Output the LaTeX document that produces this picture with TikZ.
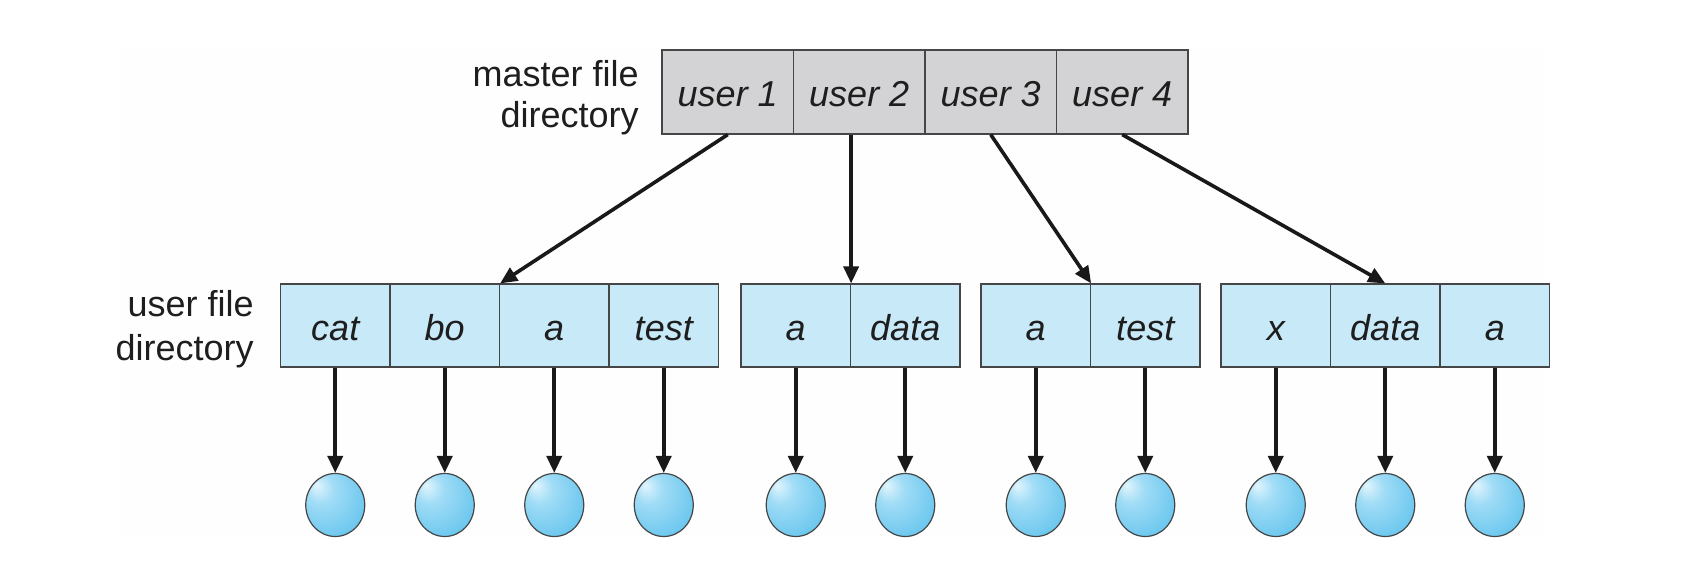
\documentclass[tikz,border=0pt]{standalone}
\usepackage{fontspec}
\setmainfont{Liberation Sans}
\usetikzlibrary{arrows.meta,shapes.geometric}
\definecolor{mgray}{RGB}{211,211,213}
\definecolor{ublue}{RGB}{200,233,248}
\definecolor{edgec}{RGB}{70,70,70}
\definecolor{txt}{RGB}{30,30,30}
\definecolor{bubA}{RGB}{225,245,253}
\definecolor{bubB}{RGB}{160,220,246}
\definecolor{bubC}{RGB}{105,198,238}
\definecolor{bubD}{RGB}{88,186,232}
\definecolor{faint}{RGB}{254,254,254}
\pgfdeclareradialshading{bubble}{\pgfpoint{-16bp}{16bp}}{color(0bp)=(bubA); color(12bp)=(bubB); color(35bp)=(bubC); color(60bp)=(bubD)}
\tikzset{
  cellfont/.style={font=\fontsize{18}{21}\selectfont\itshape, text=txt, text height=17pt, text depth=2pt},
  mcell/.style={draw=edgec, line width=0.6pt, fill=mgray, rectangle, minimum width=65.75pt, minimum height=42pt, inner sep=0pt, cellfont},
  ucell/.style={draw=edgec, line width=0.6pt, fill=ublue, rectangle, minimum width=54.75pt, minimum height=41.5pt, inner sep=0pt, cellfont},
  bub/.style={ellipse, draw=edgec, line width=0.6pt, shading=bubble, minimum width=29.5pt, minimum height=31.5pt, inner sep=0pt},
  conn/.style={line width=1.8pt, draw=black!90, -{Triangle[length=8.5pt,width=7.5pt]}},
  lbl/.style={align=right, anchor=east, text=txt, inner sep=0pt}
}
\begin{document}
\begin{tikzpicture}[x=0.5pt,y=-0.5pt]
\useasboundingbox (0,0) rectangle (1698,577);
\fill[faint] (120,50) rectangle (1543,535);
% master directory
\node[mcell] (m1) at (727.75,92) {user 1};
\node[mcell] (m2) at (859.25,92) {user 2};
\node[mcell] (m3) at (990.75,92) {user 3};
\node[mcell] (m4) at (1122.25,92) {user 4};
\node[lbl, font=\fontsize{18}{20.5}\selectfont] (ml) at (639,98) {master file\\directory};
% user directories
\node[ucell] (u11) at (335.25,325.5) {cat};
\node[ucell] (u12) at (444.75,325.5) {bo};
\node[ucell] (u13) at (554.25,325.5) {a};
\node[ucell] (u14) at (663.75,325.5) {test};
\node[ucell] (u21) at (795.75,325.5) {a};
\node[ucell] (u22) at (905.25,325.5) {data};
\node[ucell] (u31) at (1035.75,325.5) {a};
\node[ucell] (u32) at (1145.25,325.5) {test};
\node[ucell] (u41) at (1275.75,325.5) {x};
\node[ucell] (u42) at (1385.25,325.5) {data};
\node[ucell] (u43) at (1494.75,325.5) {a};
\node[lbl, font=\fontsize{18}{22}\selectfont] (ul) at (254,329) {user file\\directory};
% files
\foreach \n/\x in {u11/335.25,u12/444.75,u13/554.25,u14/663.75,u21/795.75,u22/905.25,u31/1035.75,u32/1145.25,u41/1275.75,u42/1385.25,u43/1494.75}{
  \node[bub] (f\n) at (\x,505) {};
  \draw[conn] (\n.south) -- (f\n.north);
}
% master connectors
\draw[conn] (m1.south) -- (u12.north east);
\draw[conn] (u21.north east |- m2.south) -- (u21.north east);
\draw[conn] (m3.south) -- (u31.north east);
\draw[conn] (m4.south) -- (u42.north);
\end{tikzpicture}
\end{document}
